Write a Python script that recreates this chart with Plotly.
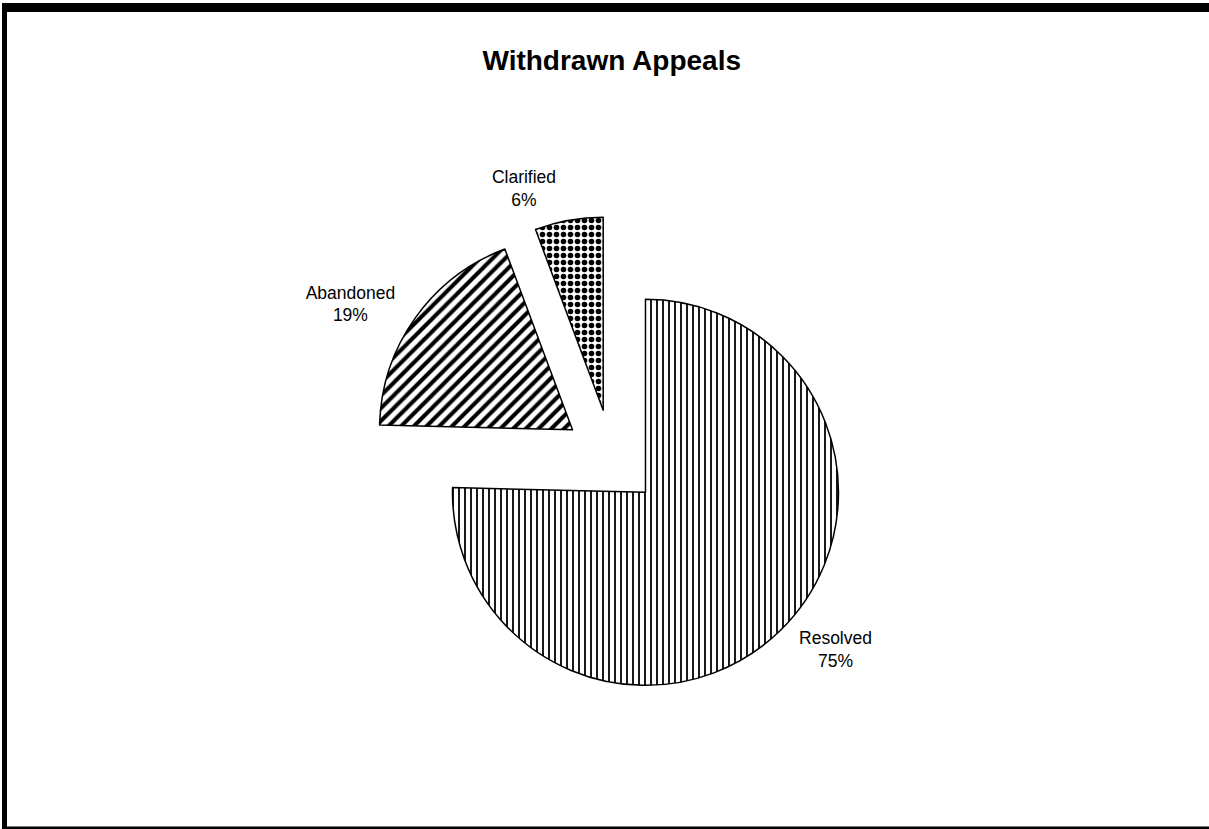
import plotly.graph_objects as go

# Data
categories = ["Resolved", "Abandoned", "Clarified"]
shares = [75.4, 18.9, 5.7]
pull_fraction = [0.25, 0.25, 0.25]
label_pull_fraction = [0.31, 0.31, 0.31]
pattern_shapes = ["|", "/", "."]
pattern_sizes = [6, 9, 7]
pattern_solidity = [0.3, 0.45, 0.5]

W, H = 1209, 829
FONT = "Liberation Sans, Arial, sans-serif"

# Pie centre / radius (pixels) and the domain that gives them
CX, CY, R = 611.8, 457.8, 193.0


def domain_for(max_pull):
    half = R * (1 + max_pull)
    x0 = (CX - half) / W
    x1 = (CX + half) / W
    y0 = 1 - (CY + half) / H
    y1 = 1 - (CY - half) / H
    return dict(x=[x0, x1], y=[y0, y1])


fig = go.Figure()

# Patterned slices
fig.add_trace(
    go.Pie(
        labels=categories,
        values=shares,
        sort=False,
        direction="clockwise",
        rotation=0,
        pull=pull_fraction,
        domain=domain_for(max(pull_fraction)),
        marker=dict(
            colors=["white"] * 3,
            line=dict(color="black", width=1.5),
            pattern=dict(
                shape=pattern_shapes,
                size=pattern_sizes,
                solidity=pattern_solidity,
                fgcolor="black",
                bgcolor="white",
                fillmode="replace",
            ),
        ),
        textinfo="none",
        showlegend=False,
        automargin=False,
        hoverinfo="label+percent",
    )
)

# Data labels (same slices, transparent, pushed a little further out)
fig.add_trace(
    go.Pie(
        labels=categories,
        values=shares,
        sort=False,
        direction="clockwise",
        rotation=0,
        pull=label_pull_fraction,
        domain=domain_for(max(label_pull_fraction)),
        marker=dict(colors=["rgba(0,0,0,0)"] * 3, line=dict(width=0)),
        textposition="outside",
        texttemplate="%{label}<br>%{percent:.0%}",
        textfont=dict(family=FONT, size=17.5, color="black"),
        showlegend=False,
        automargin=False,
        hoverinfo="skip",
    )
)


def px_rect(x0, y0, x1, y1):
    return dict(
        type="rect", xref="paper", yref="paper",
        x0=x0 / W, x1=x1 / W, y0=1 - y1 / H, y1=1 - y0 / H,
        fillcolor="black", line=dict(width=0), layer="above",
    )


fig.update_layout(
    width=W,
    height=H,
    autosize=False,
    showlegend=False,
    margin=dict(l=0, r=0, t=0, b=0, pad=0, autoexpand=False),
    paper_bgcolor="white",
    plot_bgcolor="white",
    title=dict(
        text="<b>Withdrawn Appeals</b>",
        x=0.506,
        xanchor="center",
        y=1 - 60 / H,
        yanchor="middle",
        font=dict(family=FONT, size=28, color="black"),
    ),
    shapes=[
        px_rect(3, 3, W, 12),
        px_rect(2, 3, 7, H),
        px_rect(2, 826.5, W, H),
    ],
)

fig.write_html("out.html")
